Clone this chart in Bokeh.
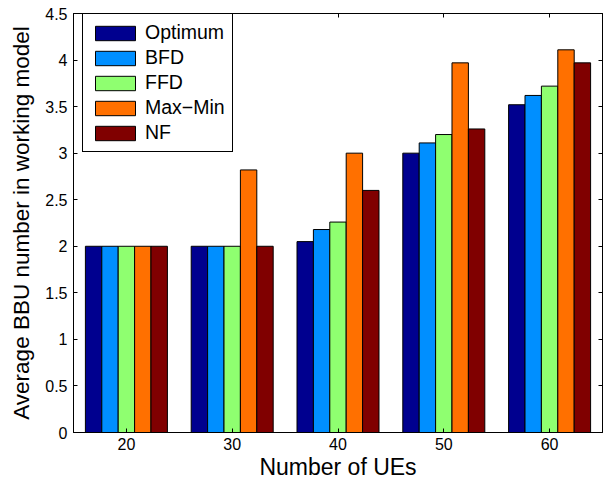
from bokeh.plotting import figure
from bokeh.models import FixedTicker, LinearAxis, Legend, LegendItem, Range1d
from bokeh.embed import file_html
from bokeh.resources import INLINE

# ---- data ----
ues = [20, 30, 40, 50, 60]
series_names = ["Optimum", "BFD", "FFD", "Max\u2212Min", "NF"]
optimum = [2.0, 2.0, 2.05, 3.0, 3.52]
bfd = [2.0, 2.0, 2.18, 3.11, 3.62]
ffd = [2.0, 2.0, 2.26, 3.20, 3.72]
maxmin = [2.0, 2.82, 3.0, 3.97, 4.11]
nf = [2.0, 2.0, 2.60, 3.26, 3.97]
y_ticks = [0, 0.5, 1, 1.5, 2, 2.5, 3, 3.5, 4, 4.5]
x_ticks = [20, 30, 40, 50, 60]

series = [optimum, bfd, ffd, maxmin, nf]
colors = ["#00008F", "#008FFF", "#8FFF70", "#FF7000", "#800000"]
FONT = "Liberation Sans"
bar_w = 1.55

p = figure(width=605, height=483, output_backend="svg", toolbar_location=None,
           x_range=Range1d(15, 65), y_range=Range1d(0, 4.5),
           min_border_left=73, min_border_right=3, min_border_top=13, min_border_bottom=51)
p.grid.visible = False
p.outline_line_color = "black"
p.outline_line_width = 1

renderers = []
for i, (vals, c) in enumerate(zip(series, colors)):
    xs = [u + (i - 2) * bar_w for u in ues]
    r = p.vbar(x=xs, top=vals, bottom=0, width=bar_w, fill_color=c,
               line_color="black", line_width=1)
    renderers.append(r)

def style_axis(ax, show_labels=True):
    ax.major_tick_in = 4
    ax.major_tick_out = 0
    ax.minor_tick_line_color = None
    ax.axis_line_color = "black"
    ax.major_tick_line_color = "black"
    ax.major_label_text_font = FONT
    ax.major_label_text_font_size = "16px"
    ax.major_label_text_color = "black"
    ax.axis_label_text_font = FONT
    ax.axis_label_text_font_style = "normal"
    ax.axis_label_text_color = "black"
    if not show_labels:
        ax.major_label_text_font_size = "0px"
        ax.major_label_text_color = None

xax = p.xaxis[0]
xax.ticker = FixedTicker(ticks=x_ticks)
style_axis(xax)
xax.axis_label = "Number of UEs"
xax.axis_label_text_font_size = "23px"
xax.major_label_standoff = 5
xax.axis_label_standoff = 1

yax = p.yaxis[0]
yax.ticker = FixedTicker(ticks=y_ticks)
yax.major_label_overrides = {t: f"{t:g}" for t in y_ticks}
style_axis(yax)
yax.axis_label = "Average BBU number in working model"
yax.axis_label_text_font_size = "22.5px"
yax.major_label_standoff = 6
yax.axis_label_standoff = 8

top_ax = LinearAxis(ticker=FixedTicker(ticks=x_ticks))
style_axis(top_ax, False)
p.add_layout(top_ax, "above")
right_ax = LinearAxis(ticker=FixedTicker(ticks=y_ticks))
style_axis(right_ax, False)
p.add_layout(right_ax, "right")

items = [LegendItem(label=n, renderers=[r]) for n, r in zip(series_names, renderers)]
legend = Legend(items=items, location=(9, 280))
legend.label_text_font = FONT
legend.label_text_font_size = "19.5px"
legend.label_text_color = "black"
legend.glyph_width = 50
legend.glyph_height = 18
legend.spacing = 2
legend.padding = 7
legend.label_standoff = 5
legend.border_line_color = "black"
legend.border_line_width = 1
legend.border_line_alpha = 1
legend.background_fill_alpha = 1
legend.margin = 0
p.add_layout(legend, "center")

open("out.html", "w").write(file_html(p, INLINE))
